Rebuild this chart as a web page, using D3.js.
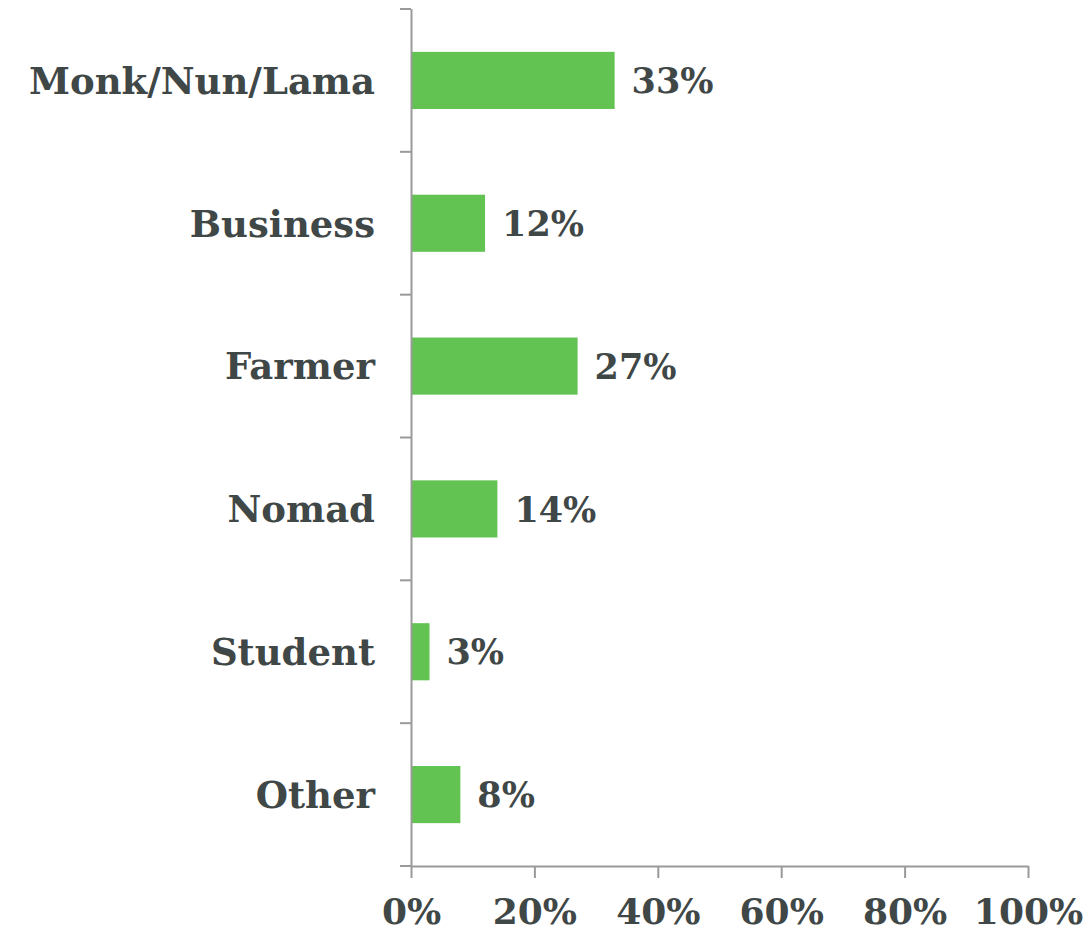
<!DOCTYPE html>
<html>
<head>
<meta charset="utf-8">
<script src="https://cdn.jsdelivr.net/npm/d3@7"></script>
<style>
  html, body { margin: 0; padding: 0; background: #ffffff; }
  svg text { font-family: "DejaVu Serif", serif; font-weight: bold; fill: #3f4747; }
</style>
</head>
<body>
<svg id="chart" width="1086" height="933"></svg>
<script>
// Occupation shares (percent)
const categories = ["Monk/Nun/Lama", "Business", "Farmer", "Nomad", "Student", "Other"];
const values = [33, 12, 27, 14, 3, 8];
const tickValues = [0, 20, 40, 60, 80, 100];

const svg = d3.select("#chart");
const margin = { top: 9, left: 411, right: 58, bottom: 67 };
const width = 1086 - margin.left - margin.right;
const height = 933 - margin.top - margin.bottom;

const g = svg.append("g").attr("transform", `translate(${margin.left},${margin.top})`);

const x = d3.scaleLinear().domain([0, 100]).range([0, width]);
const y = d3.scaleBand().domain(categories).range([0, height])
  .paddingInner(0.6).paddingOuter(0.3);

const axisColor = "#9a9a9a";

// Bars
g.selectAll("rect.bar")
  .data(values)
  .enter().append("rect")
  .attr("class", "bar")
  .attr("x", x(0))
  .attr("y", (d, i) => y(categories[i]))
  .attr("width", d => x(d) - x(0))
  .attr("height", y.bandwidth())
  .attr("fill", "#62c352");

// Value labels
g.selectAll("text.value")
  .data(values)
  .enter().append("text")
  .attr("class", "value")
  .attr("x", d => x(d) + 17)
  .attr("y", (d, i) => y(categories[i]) + y.bandwidth() / 2)
  .attr("dy", "0.36em")
  .style("font-size", "35px")
  .text(d => d + "%");

// Category labels
g.selectAll("text.cat")
  .data(categories)
  .enter().append("text")
  .attr("class", "cat")
  .attr("x", -36)
  .attr("y", d => y(d) + y.bandwidth() / 2)
  .attr("dy", "0.36em")
  .attr("text-anchor", "end")
  .style("font-size", "37px")
  .text(d => d);

// Y axis line with ticks at band boundaries
const step = y.step();
const boundaries = d3.range(categories.length + 1).map(i => i * step);
g.append("line")
  .attr("x1", 0.5).attr("x2", 0.5)
  .attr("y1", 0).attr("y2", height)
  .attr("stroke", axisColor).attr("stroke-width", 2);
g.selectAll("line.ytick")
  .data(boundaries)
  .enter().append("line")
  .attr("class", "ytick")
  .attr("x1", -11).attr("x2", 0)
  .attr("y1", d => d).attr("y2", d => d)
  .attr("stroke", axisColor).attr("stroke-width", 2);

// X axis
const xAxis = d3.axisBottom(x)
  .tickValues(tickValues)
  .tickSize(12)
  .tickSizeOuter(0)
  .tickFormat(d => d + "%");
const xg = g.append("g")
  .attr("transform", `translate(0,${height})`)
  .call(xAxis);
xg.select(".domain").attr("stroke", axisColor).attr("stroke-width", 2);
xg.selectAll(".tick line").attr("stroke", axisColor).attr("stroke-width", 2);
xg.selectAll(".tick text")
  .attr("y", 32)
  .attr("dy", "0.71em")
  .style("font-size", "36px")
  .style("font-family", "'DejaVu Serif', serif")
  .style("font-weight", "bold")
  .attr("fill", "#3f4747");
</script>
</body>
</html>
